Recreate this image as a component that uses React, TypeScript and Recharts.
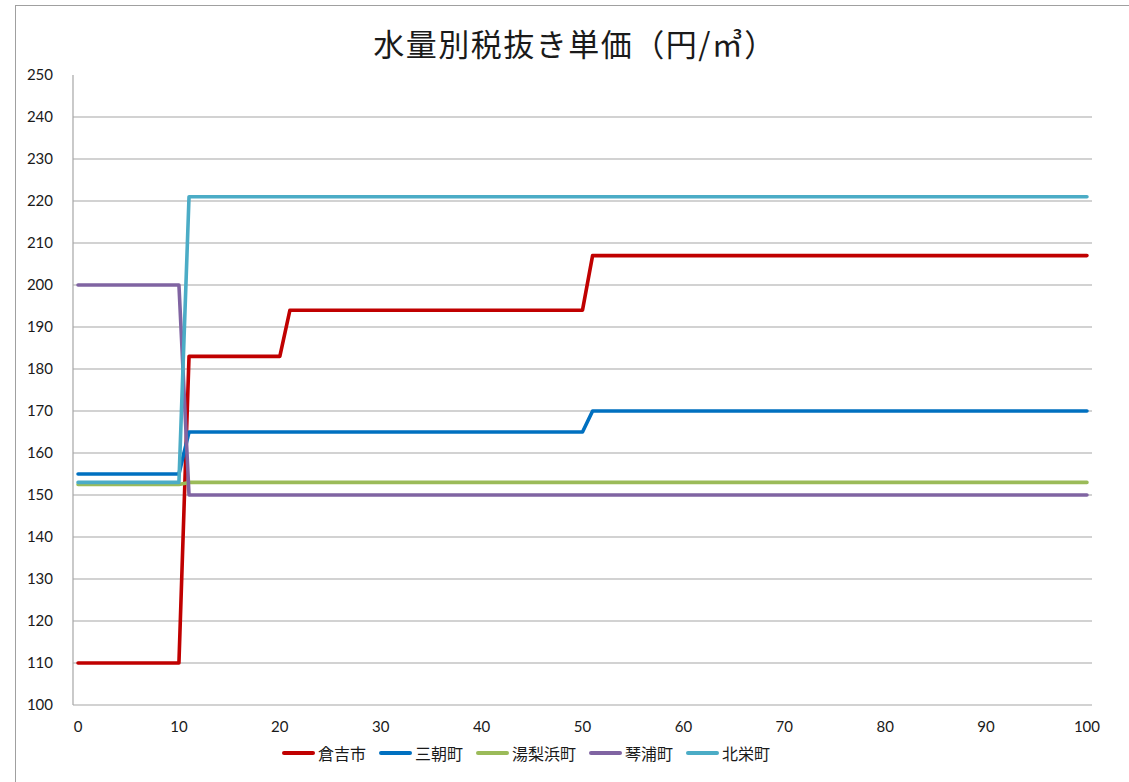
import { LineChart, Line, XAxis, YAxis, CartesianGrid } from "recharts";

// 使用水量 (m³) の区切り点。各区間内は単価が一定。
const volumes = [0, 10, 11, 20, 21, 50, 51, 100];

const kurayoshi = [110, 110, 183, 183, 194, 194, 207, 207];
const misasa = [155, 155, 165, 165, 165, 165, 170, 170];
const yurihama = [152.5, 152.5, 153, 153, 153, 153, 153, 153];
const kotoura = [200, 200, 150, 150, 150, 150, 150, 150];
const hokuei = [153, 153, 221, 221, 221, 221, 221, 221];

const xTicks = [0, 10, 20, 30, 40, 50, 60, 70, 80, 90, 100];
const yTicks = [100, 110, 120, 130, 140, 150, 160, 170, 180, 190, 200, 210, 220, 230, 240, 250];
const gridValues = yTicks.filter((v) => v !== 100 && v !== 250);

const SERIES = [
  { key: "倉吉市", values: kurayoshi, color: "#C00000" },
  { key: "三朝町", values: misasa, color: "#0070C0" },
  { key: "湯梨浜町", values: yurihama, color: "#9BBB59" },
  { key: "琴浦町", values: kotoura, color: "#8064A2" },
  { key: "北栄町", values: hokuei, color: "#4BACC6" },
];

const data = volumes.map((v, i) => {
  const row: Record<string, number> = { volume: v };
  SERIES.forEach((s) => {
    row[s.key] = s.values[i];
  });
  return row;
});

const AXIS = "#a6a6a6";
const TICK = { fill: "#1a1a1a", fontSize: 15, fontFamily: "Lato, sans-serif" };

function LegendRow() {
  return (
    <div
      style={{
        position: "absolute",
        left: 282,
        top: 742,
        display: "flex",
        alignItems: "center",
        fontFamily: "'Noto Sans CJK JP', sans-serif",
        fontSize: 16,
        lineHeight: "22px",
        color: "#1a1a1a",
      }}
    >
      {SERIES.map((s) => (
        <div key={s.key} style={{ display: "flex", alignItems: "center", marginRight: 13 }}>
          <span
            style={{
              display: "inline-block",
              width: 33,
              height: 4,
              borderRadius: 2,
              background: s.color,
              marginRight: 3,
            }}
          />
          <span>{s.key}</span>
        </div>
      ))}
    </div>
  );
}

export default function App() {
  return (
    <div
      style={{
        position: "fixed",
        left: 0,
        top: 0,
        width: 1129,
        height: 782,
        background: "#fff",
        overflow: "hidden",
      }}
    >
      <div
        style={{
          position: "absolute",
          left: 15,
          top: 5,
          width: 1200,
          height: 900,
          border: "1px solid #a0a0a0",
        }}
      />
      <div
        style={{
          position: "absolute",
          left: 0,
          top: 20,
          width: 1150,
          textAlign: "center",
          fontFamily: "'Noto Sans CJK JP', sans-serif",
          fontSize: 31,
          letterSpacing: 1.5,
          lineHeight: "46px",
          color: "#1a1a1a",
        }}
      >
        水量別税抜き単価（円/㎥）
      </div>
      <div style={{ position: "absolute", left: 0, top: 0 }}>
        <LineChart
          width={1129}
          height={782}
          data={data}
          margin={{ top: 75, right: 37, bottom: 0, left: 0 }}
        >
          <CartesianGrid
            vertical={false}
            horizontalValues={gridValues}
            stroke={AXIS}
            strokeWidth={1.2}
          />
          <XAxis
            dataKey="volume"
            type="number"
            domain={[-0.5, 100.5]}
            ticks={xTicks}
            interval={0}
            tick={TICK}
            tickLine={false}
            tickSize={0}
            tickMargin={16}
            axisLine={{ stroke: AXIS, strokeWidth: 1.2 }}
            height={77}
          />
          <YAxis
            type="number"
            domain={[100, 250]}
            ticks={yTicks}
            interval={0}
            tick={TICK}
            tickLine={false}
            tickSize={0}
            tickMargin={20}
            axisLine={{ stroke: AXIS, strokeWidth: 1.2 }}
            width={73}
          />
          {SERIES.map((s) => (
            <Line
              key={s.key}
              type="linear"
              dataKey={s.key}
              stroke={s.color}
              strokeWidth={3.6}
              strokeLinecap="round"
              strokeLinejoin="round"
              dot={false}
              activeDot={false}
              isAnimationActive={false}
            />
          ))}
        </LineChart>
      </div>
      <LegendRow />
    </div>
  );
}
